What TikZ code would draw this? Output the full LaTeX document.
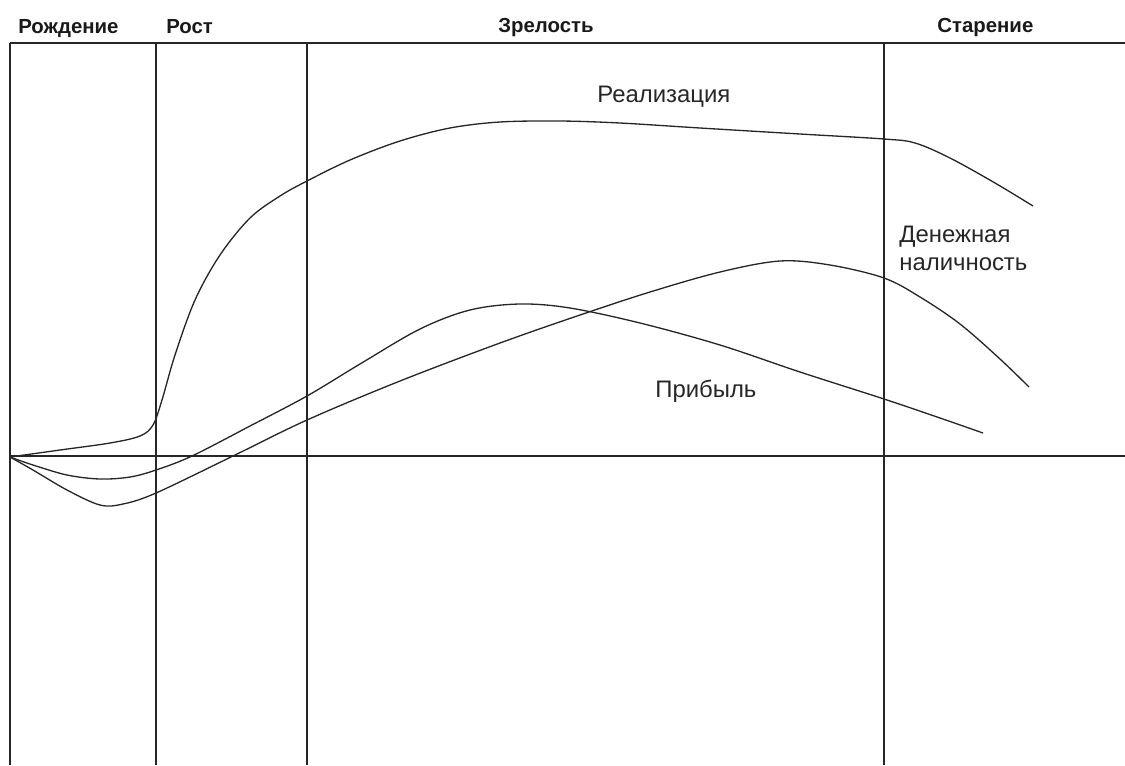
\documentclass[tikz,border=0pt]{standalone}
\usepackage{fontspec}
\setmainfont{Liberation Sans}
\begin{document}
\begin{tikzpicture}[x=0.02cm,y=-0.02cm,
  gridline/.style={line width=0.85pt, draw=black!85},
  curve/.style={line width=0.75pt, draw=black!85, smooth, tension=0.55},
  stage/.style={font=\bfseries\fontsize{11.6}{14}\selectfont, inner sep=0pt, anchor=base west, text=black!90},
  lbl/.style={font=\fontsize{13.6}{16}\selectfont, inner sep=0pt, anchor=base west, text=black!85}]
\useasboundingbox (0,0) rectangle (1125,765);

% frame: top rule, time axis and stage boundaries
\coordinate (tl) at (10,43);
\coordinate (tr) at (1125,43);
\coordinate (o) at (10,456);
\coordinate (ar) at (1125,456);
\draw[gridline] (tl) -- (tr);
\draw[gridline] (o) -- (ar);
\foreach \x/\n in {10/a,156/b,307/c,884/d}{
  \coordinate (\n top) at (\x,43);
  \coordinate (\n bot) at (\x,765);
  \draw[gridline] (\n top) -- (\n bot);
}

% stage headings
\node[stage] (birth)  at (18,33)  {Рождение};
\node[stage] (growth) at (166,33) {Рост};
\node[stage] (mature) at (498,32) {Зрелость};
\node[stage] (aging)  at (937,32) {Старение};

% sales
\draw[curve] plot coordinates {(10,457) (60,450) (110,443) (140,436) (153,425)
  (162,400) (175,355) (195,300) (220,255) (250,218) (280,196) (307,181)
  (350,160) (400,141) (450,128) (500,122) (560,121) (620,123) (700,128)
  (800,134) (884,139) (915,143) (950,158) (995,183) (1033,206)};

% profit
\draw[curve] plot coordinates {(10,457) (33,465) (67,475) (100,479) (130,477)
  (156,470) (192,456) (250,426) (307,396) (360,364) (420,329) (470,310)
  (520,304) (570,308) (640,323) (720,345) (800,372) (884,399) (940,418) (983,433)};

% cash flow
\draw[curve] plot coordinates {(10,457) (33,470) (67,490) (100,505) (123,504)
  (156,493) (233,456) (307,420) (400,381) (500,343) (580,315) (650,292)
  (720,272) (780,261) (830,265) (884,278) (920,297) (960,324) (1000,359)
  (1029,387)};

% curve labels
\node[lbl] (sales)  at (597,102) {Реализация};
\node[lbl] (cash1)  at (899,242) {Денежная};
\node[lbl] (cash2)  at (899,270) {наличность};
\node[lbl] (profit) at (655,397) {Прибыль};
\end{tikzpicture}
\end{document}
